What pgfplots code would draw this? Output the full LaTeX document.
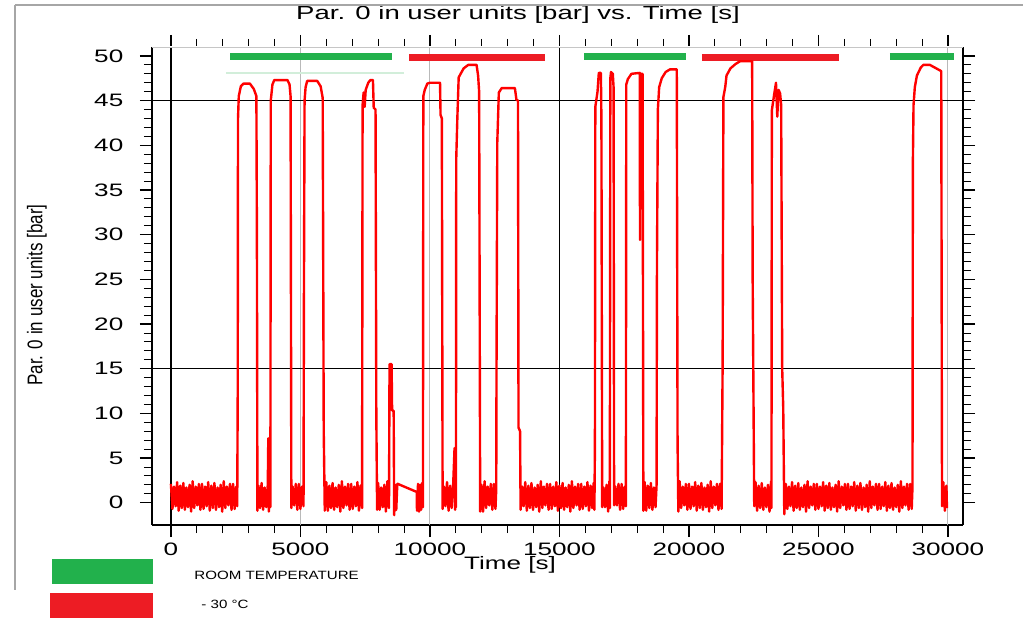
\documentclass[border=0pt]{standalone}
\usepackage{fontspec}
\setmainfont{Liberation Sans}
\usepackage{pgfplots}
\pgfplotsset{compat=1.18}

\definecolor{barGreen}{HTML}{22B14C}
\definecolor{barRed}{HTML}{ED1C24}
\definecolor{paleGreen}{HTML}{D2EEDA}

\begin{document}
\begin{tikzpicture}
\begin{axis}[
    at={(0pt,0pt)}, anchor=south west,
    width=811pt, height=478pt, scale only axis,
    xmin=-730, xmax=30580,
    ymin=-2.5, ymax=51,
    scaled x ticks=false,
    xtick={0,5000,10000,15000,20000,25000,30000},
    xticklabels={0,5000,10000,15000,20000,25000,30000},
    ytick={0,5,10,15,20,25,30,35,40,45,50},
    yticklabels={0,5,10,15,20,25,30,35,40,45,50},
    minor x tick num=4,
    minor y tick num=4,
    tick align=outside,
    major tick length=12pt,
    minor tick length=8pt,
    tick style={black, line width=0.8pt},
    major tick style={line width=1.3pt},
    separate axis lines,
    x axis line style={line width=1.2pt},
    y axis line style={line width=2pt},
    ticklabel style={font=\fontsize{18}{20}\selectfont, xscale=1.45},
    yticklabel style={xshift=-8pt},
    xticklabel style={yshift=-2pt},
]
% cursor / reference lines
\addplot[gray!55, line width=1pt] coordinates {(5000,-2.5) (5000,51)};
\addplot[gray!55, line width=1pt] coordinates {(10000,-2.5) (10000,51)};
\addplot[gray!55, line width=1pt] coordinates {(30000,-2.5) (30000,51)};
\addplot[black, line width=1.2pt] coordinates {(0,-2.5) (0,51)};
\addplot[black, line width=1.2pt] coordinates {(15000,-2.5) (15000,51)};
\addplot[black, line width=1.2pt] coordinates {(-730,45) (30580,45)};
\addplot[black, line width=1.2pt] coordinates {(-730,15) (30580,15)};

% temperature phases
\addplot[paleGreen, line width=1.5pt] coordinates {(2120,48.1) (9000,48.1)};
\addplot[barGreen, line width=7pt] coordinates {(2300,49.9) (8550,49.9)};
\addplot[barRed, line width=7pt] coordinates {(9200,49.8) (14450,49.8)};
\addplot[barGreen, line width=7pt] coordinates {(15950,49.9) (19900,49.9)};
\addplot[barRed, line width=7pt] coordinates {(20500,49.8) (25800,49.8)};
\addplot[barGreen, line width=7pt] coordinates {(27760,49.9) (30240,49.9)};

% pressure signal
\addplot[red, line width=2.4pt, line join=round] coordinates {
(0,2.1) (60,-0.7) (120,1.8) (180,-0.4) (240,2.3) (300,-0.9) (360,1.9) (420,-0.6) (480,2.2) (540,-0.8)
(600,1.7) (660,-0.5) (720,2.0) (780,-1.0) (840,2.4) (900,-0.6) (960,1.8) (1020,-0.3) (1080,2.1) (1140,-0.8)
(1200,2.1) (1260,-0.7) (1320,1.8) (1380,-0.4) (1440,2.3) (1500,-0.9) (1560,1.9) (1620,-0.6) (1680,2.2) (1740,-0.8)
(1800,1.7) (1860,-0.5) (1920,2.0) (1980,-1.0) (2040,2.4) (2100,-0.6) (2160,1.8) (2220,-0.3) (2280,2.1) (2340,-0.8)
(2400,2.1) (2460,-0.7) (2520,1.8) (2560,-0.4)
(2580,12.7) (2590,42.9) (2620,45.5) (2700,46.6) (2800,46.9) (3050,46.9) (3200,46.3) (3300,45.5) (3320,30) (3340,-0.9)
(3380,1.9) (3440,-0.6) (3500,2.2) (3560,-0.8) (3620,1.7) (3680,-0.5) (3740,2.0) (3760,7.2) (3780,-1.0) (3820,2.1) (3840,-0.5)
(3855,45.0) (3920,46.8) (3990,47.3) (4500,47.3) (4580,46.8) (4620,45.5) (4650,-0.6)
(4700,1.8) (4760,-0.3) (4820,2.1) (4880,-0.8) (4940,2.1) (5000,-0.7) (5060,1.8) (5120,-0.4)
(5135,22.3) (5160,45.0) (5200,46.5) (5260,47.2) (5650,47.2) (5780,46.6) (5860,45.3) (5900,8) (5940,-0.9)
(6000,2.3) (6060,-0.9) (6120,1.9) (6180,-0.6) (6240,2.2) (6300,-0.8) (6360,1.7) (6420,-0.5) (6480,2.0) (6540,-1.0)
(6600,2.4) (6660,-0.6) (6720,1.8) (6780,-0.3) (6840,2.1) (6900,-0.8) (6960,2.1) (7020,-0.7) (7080,1.8) (7140,-0.4)
(7200,2.3) (7260,-0.9) (7320,1.9) (7380,-0.6)
(7400,44.5) (7440,45.9) (7480,44.3) (7520,46.2) (7620,47.0) (7700,47.3) (7800,47.3) (7830,44.2) (7900,44.0) (7930,10) (7960,-0.8)
(8000,2.2) (8060,-0.8) (8120,1.7) (8180,-0.5) (8240,2.0) (8300,-1.0) (8360,2.4) (8420,-0.6)
(8440,15.5) (8520,15.5) (8540,10.3) (8600,10.3) (8620,-1.4) (8660,2.0) (8700,-0.8) (8740,2.1)
(8760,2.1) (9490,1.2)
(9500,-0.9) (9540,2.1) (9580,-1.0) (9620,2.0) (9660,-0.8) (9700,2.2) (9730,-0.5)
(9745,45.5) (9800,46.2) (9900,46.9) (10000,47.0) (10390,47.0) (10410,43.4) (10460,43.0) (10490,-0.7)
(10540,1.8) (10600,-0.4) (10660,2.3) (10720,-0.9) (10780,1.9) (10840,-0.6) (10900,2.2) (10950,6.1) (10970,-0.8) (10990,1.7) (11005,-0.5)
(11015,38.4) (11060,43.2) (11110,47.6) (11300,48.6) (11480,49.0) (11800,49.0) (11860,47.8) (11900,46) (11940,-1.0)
(11990,2.0) (12050,-1.0) (12110,2.4) (12170,-0.6) (12230,1.8) (12290,-0.3) (12350,2.1) (12410,-0.8) (12470,2.1) (12530,-0.7) (12560,1.5)
(12570,14.4) (12600,40.3) (12660,45.9) (12770,46.4) (13280,46.4) (13340,45.1) (13400,45.0) (13420,8.4) (13480,8.0) (13500,-0.8)
(13560,1.8) (13620,-0.4) (13680,2.3) (13740,-0.9) (13800,1.9) (13860,-0.6) (13920,2.2) (13980,-0.8) (14040,1.7) (14100,-0.5)
(14160,2.0) (14220,-1.0) (14280,2.4) (14340,-0.6) (14400,1.8) (14460,-0.3) (14520,2.1) (14580,-0.8) (14640,2.1) (14700,-0.7)
(14760,1.8) (14820,-0.4) (14880,2.3) (14940,-0.9) (15000,1.9) (15060,-0.6) (15120,2.2) (15180,-0.8) (15240,1.7) (15300,-0.5)
(15360,2.0) (15420,-1.0) (15480,2.4) (15540,-0.6) (15600,1.8) (15660,-0.3) (15720,2.1) (15780,-0.8) (15840,2.1) (15900,-0.7)
(15960,1.8) (16020,-0.4) (16080,2.3) (16140,-0.9) (16200,1.9) (16260,-0.6) (16320,2.2) (16350,-0.8)
(16370,6.5) (16385,44.3) (16470,46.0) (16520,48.1) (16600,48.1) (16620,43.0) (16650,-0.5)
(16700,1.7) (16760,-0.5) (16820,2.0) (16880,-1.0) (16930,2.4) (16945,-0.6)
(16965,47.5) (16990,48.2) (17060,48.0) (17090,46.5) (17110,-0.3)
(17160,1.8) (17220,-0.3) (17280,2.1) (17340,-0.8) (17400,2.1) (17460,-0.7) (17520,1.8) (17565,-0.4)
(17580,46.8) (17640,47.4) (17780,48.0) (18100,48.1) (18110,29.4) (18120,48.0) (18210,48.0) (18240,-0.9)
(18290,2.3) (18350,-0.9) (18410,1.9) (18470,-0.6) (18530,2.2) (18590,-0.8) (18650,1.7) (18710,-0.5) (18750,2.0)
(18765,26.6) (18800,44.0) (18850,46.5) (18950,47.5) (19100,48.2) (19270,48.5) (19530,48.5) (19560,6.9) (19590,-1.0)
(19640,2.4) (19700,-0.6) (19760,1.8) (19820,-0.3) (19880,2.1) (19940,-0.8) (20000,2.1) (20060,-0.7) (20120,1.8) (20180,-0.4)
(20240,2.3) (20300,-0.9) (20360,1.9) (20420,-0.6) (20480,2.2) (20540,-0.8) (20600,1.7) (20660,-0.5) (20720,2.0) (20780,-1.0)
(20840,2.4) (20900,-0.6) (20960,1.8) (21020,-0.3) (21080,2.1) (21140,-0.8) (21200,2.1) (21260,-0.7)
(21300,15.6) (21330,45.4) (21400,46.5) (21450,47.8) (21600,48.6) (21800,49.1) (21970,49.4) (22440,49.4) (22460,24.9) (22520,-0.4)
(22570,2.3) (22630,-0.9) (22690,1.9) (22750,-0.6) (22810,2.2) (22870,-0.8) (22930,1.7) (22990,-0.5) (23050,2.0) (23110,-1.0) (23170,2.4) (23185,-0.6)
(23200,43.9) (23280,45.5) (23360,47.0) (23410,43.2) (23460,46.2) (23520,45.8) (23560,44.5) (23600,15.0) (23640,10.6) (23680,-1.3)
(23740,2.1) (23800,-0.7) (23860,1.8) (23920,-0.4) (23980,2.3) (24040,-0.9) (24100,1.9) (24160,-0.6) (24220,2.2) (24280,-0.8)
(24340,1.7) (24400,-0.5) (24460,2.0) (24520,-1.0) (24580,2.4) (24640,-0.6) (24700,1.8) (24760,-0.3) (24820,2.1) (24880,-0.8)
(24940,2.1) (25000,-0.7) (25060,1.8) (25120,-0.4) (25180,2.3) (25240,-0.9) (25300,1.9) (25360,-0.6) (25420,2.2) (25480,-0.8)
(25540,1.7) (25600,-0.5) (25660,2.0) (25720,-1.0) (25780,2.4) (25840,-0.6) (25900,1.8) (25960,-0.3) (26020,2.1) (26080,-0.8)
(26140,2.1) (26200,-0.7) (26260,1.8) (26320,-0.4) (26380,2.3) (26440,-0.9) (26500,1.9) (26560,-0.6) (26620,2.2) (26680,-0.8)
(26740,1.7) (26800,-0.5) (26860,2.0) (26920,-1.0) (26980,2.4) (27040,-0.6) (27100,1.8) (27160,-0.3) (27220,2.1) (27280,-0.8)
(27340,2.1) (27400,-0.7) (27460,1.8) (27520,-0.4) (27580,2.3) (27640,-0.9) (27700,1.9) (27760,-0.6) (27820,2.2) (27880,-0.8)
(27940,1.7) (28000,-0.5) (28060,2.0) (28120,-1.0) (28180,2.4) (28240,-0.6) (28300,1.8) (28360,-0.3) (28420,2.1) (28480,-0.8)
(28540,2.1) (28600,-0.7) (28630,1.8)
(28645,38.1) (28670,44.5) (28720,46.5) (28800,47.8) (28950,48.7) (29050,49.0) (29300,49.0) (29550,48.6) (29740,48.3) (29770,-0.4)
(29820,2.3) (29880,-0.9) (29940,1.9) (29960,-0.6)
};

% light top frame edge
\draw[white, line width=1.6pt] (rel axis cs:0,1) -- (rel axis cs:1,1);
\draw[gray!45, line width=0.9pt] (rel axis cs:0,1) -- (rel axis cs:1,1);
\end{axis}

% titles and labels
\node[font=\fontsize{19}{21}\selectfont, xscale=1.45] at (366pt,510pt) {Par. 0 in user units [bar] vs. Time [s]};
\node[font=\fontsize{18}{20}\selectfont, xscale=1.45] at (358pt,-40pt) {Time [s]};
\node[font=\fontsize{17}{19}\selectfont, rotate=90, yscale=1.25] at (-115pt,230pt) {Par. 0 in user units [bar]};

% window frame
\draw[gray!70, line width=1.5pt] (-137pt,520pt) -- (871pt,520pt);
\draw[gray!70, line width=1.5pt] (-137pt,520pt) -- (-137pt,-65pt);

% legend
\fill[barGreen] (-100pt,-59pt) rectangle (1pt,-34pt);
\fill[barRed] (-102pt,-93pt) rectangle (1pt,-68pt);
\node[anchor=west, font=\fontsize{12}{14}\selectfont, xscale=1.26] at (38pt,-50pt) {ROOM TEMPERATURE};
\node[anchor=west, font=\fontsize{12}{14}\selectfont, xscale=1.26] at (45pt,-79pt) {- 30 °C};

\pgfresetboundingbox
\path (-152pt,-94pt) rectangle (871pt,525pt);
\end{tikzpicture}
\end{document}
